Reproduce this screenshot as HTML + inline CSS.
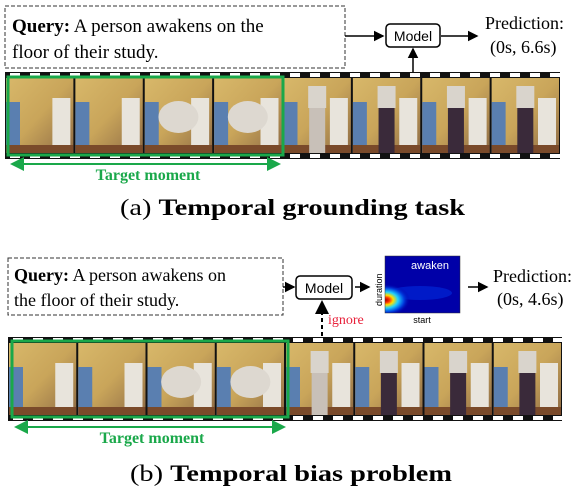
<!DOCTYPE html>
<html><head><meta charset="utf-8"><style>
body{margin:0;background:#fff;width:575px;height:494px;overflow:hidden}
svg{display:block}
.serif{font-family:"Liberation Serif",serif}
.sans{font-family:"Liberation Sans",sans-serif}
</style></head><body>
<svg id="fig" width="575" height="494" viewBox="0 0 575 494">
<defs>
<marker id="ah" markerWidth="8" markerHeight="8" refX="6" refY="4" orient="auto"><path d="M0,0.5 L7,4 L0,7.5 z" fill="#000"/></marker>
<marker id="ag" markerWidth="8" markerHeight="8" refX="6" refY="4" orient="auto-start-reverse"><path d="M0,0.5 L7,4 L0,7.5 z" fill="#1aa84a"/></marker>
<linearGradient id="wall" x1="0" y1="0" x2="1" y2="1"><stop offset="0" stop-color="#d8b86a"/><stop offset="0.5" stop-color="#c9a55a"/><stop offset="1" stop-color="#8d6a45"/></linearGradient>
<radialGradient id="hot" cx="0.5" cy="0.5" r="0.5"><stop offset="0" stop-color="#b00000"/><stop offset="0.15" stop-color="#ff3000"/><stop offset="0.3" stop-color="#ffe000"/><stop offset="0.5" stop-color="#20d0ff"/><stop offset="0.75" stop-color="#0040e0"/><stop offset="1" stop-color="#0000a8" stop-opacity="0"/></radialGradient>
<clipPath id="hmclip"><rect x="385" y="256" width="75" height="57"/></clipPath>
</defs>

<g>
<rect x="5" y="6" width="340" height="62" fill="none" stroke="#333" stroke-dasharray="4,2"/>
<text class="serif" x="12" y="32" font-size="19"><tspan font-weight="bold">Query:</tspan> A person awakens on the</text>
<text class="serif" x="12" y="58" font-size="19">floor of their study.</text>
<line x1="345" y1="36" x2="383" y2="36" stroke="#000" stroke-width="1.5" marker-end="url(#ah)"/>
<rect x="386" y="24" width="54" height="23" rx="4" fill="#fff" stroke="#000" stroke-width="1.5"/>
<text class="sans" x="413" y="41" font-size="14" text-anchor="middle">Model</text>
<line x1="441" y1="36" x2="477" y2="36" stroke="#000" stroke-width="1.5" marker-end="url(#ah)"/>
<line x1="413" y1="72" x2="413" y2="49" stroke="#000" stroke-width="1.5" marker-end="url(#ah)"/>
<text class="serif" x="485" y="29" font-size="18">Prediction:</text>
<text class="serif" x="490" y="53" font-size="18">(0s, 6.6s)</text>
<g id="filmA"></g>
<rect x="8" y="77" width="275" height="78" fill="none" stroke="#1aa84a" stroke-width="3"/>
<line x1="12" y1="164" x2="279" y2="164" stroke="#1aa84a" stroke-width="2" marker-start="url(#ag)" marker-end="url(#ag)"/>
<text class="serif" x="148" y="180" font-size="16" font-weight="bold" fill="#1aa84a" text-anchor="middle">Target moment</text>
<text class="serif" x="120" y="215" font-size="23" textLength="345" lengthAdjust="spacingAndGlyphs">(a) <tspan font-weight="bold">Temporal grounding task</tspan></text>
</g>

<g>
<rect x="8" y="258" width="275" height="57" fill="none" stroke="#333" stroke-dasharray="4,2"/>
<text class="serif" x="14" y="281" font-size="18"><tspan font-weight="bold">Query:</tspan> A person awakens on</text>
<text class="serif" x="14" y="306" font-size="18">the floor of their study.</text>
<line x1="283" y1="287" x2="294" y2="287" stroke="#000" stroke-width="1.5" marker-end="url(#ah)"/>
<rect x="296" y="276" width="56" height="23" rx="4" fill="#fff" stroke="#000" stroke-width="1.5"/>
<text class="sans" x="324" y="293" font-size="14" text-anchor="middle">Model</text>
<line x1="355" y1="287" x2="369" y2="287" stroke="#000" stroke-width="1.5" marker-end="url(#ah)"/>
<line x1="322" y1="336" x2="322" y2="302" stroke="#000" stroke-width="2" stroke-dasharray="4,3" marker-end="url(#ah)"/>
<text class="serif" x="328" y="324" font-size="14" fill="#e8203a">ignore</text>
<rect x="385" y="256" width="75" height="57" fill="#0000a8"/>
<g clip-path="url(#hmclip)">
<ellipse cx="420" cy="293" rx="32" ry="7" fill="#0020d0" opacity="0.8"/>
<ellipse cx="386" cy="300" rx="24" ry="16" fill="url(#hot)"/>
</g>
<rect x="385" y="256" width="75" height="57" fill="none" stroke="#333" stroke-width="0.5"/>
<text class="sans" x="430" y="269" font-size="11" fill="#fff" text-anchor="middle">awaken</text>
<text class="sans" x="382" y="306" font-size="9" transform="rotate(-90 382 306)">duration</text>
<text class="sans" x="422" y="323" font-size="9" text-anchor="middle">start</text>
<line x1="468" y1="287" x2="487" y2="287" stroke="#000" stroke-width="1.5" marker-end="url(#ah)"/>
<text class="serif" x="493" y="282" font-size="18">Prediction:</text>
<text class="serif" x="497" y="305" font-size="18">(0s, 4.6s)</text>
<g id="filmB"></g>
<rect x="12" y="341" width="276" height="76" fill="none" stroke="#1aa84a" stroke-width="3"/>
<line x1="16" y1="427" x2="284" y2="427" stroke="#1aa84a" stroke-width="2" marker-start="url(#ag)" marker-end="url(#ag)"/>
<text class="serif" x="152" y="443" font-size="16" font-weight="bold" fill="#1aa84a" text-anchor="middle">Target moment</text>
<text class="serif" x="130" y="481" font-size="23" textLength="322" lengthAdjust="spacingAndGlyphs">(b) <tspan font-weight="bold">Temporal bias problem</tspan></text>
</g>
</svg>
<script>
const NS="http://www.w3.org/2000/svg";
function mk(g,tag,a){const e=document.createElementNS(NS,tag);for(const k in a)e.setAttribute(k,a[k]);g.appendChild(e);return e;}
function film(id,x0,x1,y0,y1){
  const g=document.getElementById(id);
  mk(g,'rect',{x:x0,y:y0,width:x1-x0,height:y1-y0,fill:'#111'});
  const n=8,fw=(x1-x0)/n;
  for(let i=0;i<n;i++){
    const fx=x0+i*fw;
    const f=mk(g,'g',{});
    
    
    mk(f,'rect',{x:fx+1,y:y0+6,width:fw-2,height:y1-y0-12,fill:'url(#wall)'});
    mk(f,'rect',{x:fx+1,y:y0+30,width:14,height:y1-y0-36,fill:'#5a7fb0'});
    mk(f,'rect',{x:fx+fw-22,y:y0+26,width:18,height:y1-y0-32,fill:'#e8e4dc'});
    mk(f,'rect',{x:fx+1,y:y1-14,width:fw-2,height:8,fill:'#7a4a2a'});
    if(i>=4){mk(f,'rect',{x:fx+fw/2-8,y:y0+14,width:16,height:y1-y0-20,fill:i==4?'#c8c0b8':'#3a2a3a'});
      mk(f,'rect',{x:fx+fw/2-9,y:y0+14,width:18,height:22,fill:'#d9d4cc'});}
    else if(i>=2){mk(f,'ellipse',{cx:fx+fw/2,cy:y0+45,rx:20,ry:16,fill:'#ddd8d0'});}
  }
  for(let x=x0+5;x<x1-6;x+=20){
    mk(g,'rect',{x:x,y:y0+1,width:10,height:4,fill:'#fff'});
    mk(g,'rect',{x:x,y:y1-5,width:10,height:4,fill:'#fff'});
  }
}
film('filmA',5,560,72,159);
film('filmB',8,562,337,421);
</script>
</body></html>
